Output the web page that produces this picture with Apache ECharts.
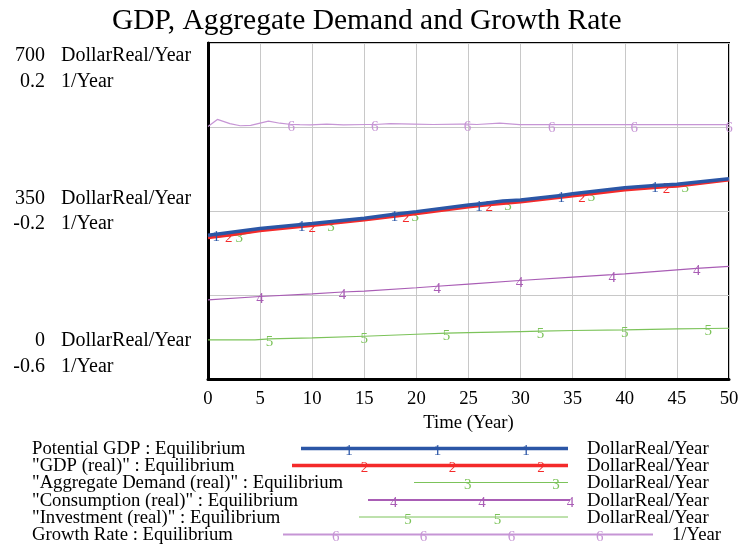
<!DOCTYPE html>
<html>
<head>
<meta charset="utf-8">
<title>GDP, Aggregate Demand and Growth Rate</title>
<script src="https://cdn.jsdelivr.net/npm/echarts@6/dist/echarts.min.js"></script>
<style>
  html, body { margin: 0; padding: 0; background: #ffffff; }
  #chart { width: 739px; height: 549px; }
</style>
</head>
<body>
<div id="chart"></div>
<script>
// ---- Simulation output (Time in years) ----
// Potential GDP (DollarReal/Year)
const tPot = [0, 0.8, 5, 9, 10, 15, 17.9, 20, 25, 26, 28.3, 30, 33.9, 35, 40, 42.9, 45, 50];
const potentialGdp = [299.5, 301.5, 313.7, 322, 324, 335, 343, 348.7, 362.6, 364.5, 371, 373, 382.5, 386, 398.4, 403, 405.5, 417.3];
const markPot = [0.8, 9, 17.9, 26, 33.9, 42.9];

// GDP (real) (DollarReal/Year)
const tGdp = [0, 2, 5, 10, 15, 19, 20, 25, 27, 30, 35, 35.9, 40, 44, 45, 50];
const gdpReal = [295, 300, 309.5, 320.5, 331.5, 342, 345, 359, 363.5, 369.5, 382, 384, 394.5, 401, 402, 415];
const markGdp = [2, 10, 19, 27, 35.9, 44];

// Aggregate Demand (real) (DollarReal/Year)
const tAd = [0, 3, 5, 10, 11.8, 15, 19.9, 25, 28.8, 30, 35, 36.8, 40, 45, 45.8, 50];
const aggDemand = [294, 300, 308.5, 319.5, 323.5, 330.5, 343.5, 358, 366, 368.5, 381, 385.5, 393.5, 401, 403, 414];
const markAd = [3, 11.8, 19.9, 28.8, 36.8, 45.8];

// Consumption (real) (DollarReal/Year)
const tCon = [0, 5, 10, 12.9, 15, 20, 22, 25, 29.9, 35, 38.8, 40, 45, 46.9, 50];
const consumption = [164.9, 171.9, 177.4, 181.2, 183, 190.1, 193.2, 197.8, 205.2, 212.3, 217.5, 219.2, 227.5, 230.3, 234.6];
const markCon = [5, 12.9, 22, 29.9, 38.8, 46.9];

// Investment (real) (DollarReal/Year)
const tInv = [0, 4.5, 5.9, 10, 15, 20, 22.9, 25, 30, 31.9, 35, 40, 45, 48, 50];
const investment = [81.4, 81.4, 83.5, 85.6, 89.1, 93.2, 95.5, 96.8, 98.9, 99.8, 101, 102.3, 104.3, 105.2, 105.7];
const markInv = [5.9, 15, 22.9, 31.9, 40, 48];

// Growth Rate (1/Year)
const tGr = [0, 0.9, 2.1, 3.1, 4.1, 5.8, 6.9, 8, 8.8, 9.8, 11.4, 13, 15.2, 16, 17.5, 19.7, 21.6, 24.2, 24.9, 25.8, 28, 29.9, 33, 40.9, 50];
const growthRate = [0.001, 0.018, 0.008, 0.003, 0.004, 0.014, 0.009, 0.006, 0.0055, 0.005, 0.007, 0.005, 0.006, 0.006, 0.008, 0.007, 0.006, 0.007, 0.007, 0.006, 0.009, 0.0055, 0.0055, 0.0055, 0.0055];
const markGr = [8, 16, 24.9, 33, 40.9, 50];

// ---- Axis tick labels ----
const leftTickVals = [0, 350, 700];
const leftTickText = ['0', '350', '700'];
const leftUnit = 'DollarReal/Year';
const rightTickVals = [-0.6, -0.2, 0.2];
const rightTickText = ['-0.6', '-0.2', '0.2'];
const rightUnit = '1/Year';
const xTitle = 'Time (Year)';
const chartTitle = 'GDP, Aggregate Demand and Growth Rate';

// ---- Legend entries ----
const legendNames = [
  'Potential GDP : Equilibrium',
  '"GDP (real)" : Equilibrium',
  '"Aggregate Demand (real)" : Equilibrium',
  '"Consumption (real)" : Equilibrium',
  '"Investment (real)" : Equilibrium',
  'Growth Rate : Equilibrium'
];
const legendUnits = [leftUnit, leftUnit, leftUnit, leftUnit, leftUnit, rightUnit];

// ---- Styling ----
const FONT = '"Liberation Serif", "Times New Roman", serif';
const colors = ['#2b56a6', '#f42a2a', '#7cc35a', '#a95db5', '#7cc35a', '#c695d5'];
const widths = [3.5, 3.5, 1, 1.2, 1.2, 1.2];
const legendWidths = [3.5, 3.5, 1, 2, 1, 2];

// Legend layout (pixels)
const legendTextX = 32;
const legendRowY = [450, 467, 484, 501.5, 518.5, 536];
const legendLines = [[301, 568], [292, 568], [414, 568], [368, 570], [359, 568], [283, 653]];
const legendMarks = [
  [349, 437.5, 526],
  [364.5, 452.6, 541],
  [467.7, 556],
  [393.7, 482, 570.5],
  [408, 497.4],
  [335.7, 423.4, 511.6, 599.8]
];
const legendUnitX = [587, 587, 587, 587, 587, 672];

function buildData(times, values, marks) {
  return times.map(function (t, i) {
    if (marks.indexOf(t) >= 0) {
      return { value: [t, values[i]], symbol: 'circle', symbolSize: 0, label: { show: true } };
    }
    return { value: [t, values[i]], symbol: 'none' };
  });
}

const seriesDefs = [
  { times: tPot, vals: potentialGdp, marks: markPot, axis: 0 },
  { times: tGdp, vals: gdpReal, marks: markGdp, axis: 0 },
  { times: tAd, vals: aggDemand, marks: markAd, axis: 0 },
  { times: tCon, vals: consumption, marks: markCon, axis: 0 },
  { times: tInv, vals: investment, marks: markInv, axis: 0 },
  { times: tGr, vals: growthRate, marks: markGr, axis: 1 }
];

const series = seriesDefs.map(function (d, i) {
  return {
    type: 'line',
    name: legendNames[i],
    yAxisIndex: d.axis,
    data: buildData(d.times, d.vals, d.marks),
    showSymbol: true,
    showAllSymbol: true,
    symbol: 'none',
    z: 20 - i,
    silent: true,
    lineStyle: { color: colors[i], width: widths[i] },
    itemStyle: { color: colors[i] },
    label: {
      show: false,
      position: 'inside',
      offset: [0, 3],
      formatter: String(i + 1),
      color: colors[i],
      fontFamily: FONT,
      fontSize: 15
    },
    emphasis: { disabled: true }
  };
});

// Legend drawn as plain shapes and text under the plot
const graphic = [];
legendNames.forEach(function (name, i) {
  const y = legendRowY[i];
  graphic.push({
    type: 'text', left: legendTextX, top: y - 10,
    style: { text: name, font: '18.7px ' + FONT, fill: '#000' }
  });
  graphic.push({
    type: 'line',
    shape: { x1: legendLines[i][0], y1: y - 1.5, x2: legendLines[i][1], y2: y - 1.5 },
    style: { stroke: colors[i], lineWidth: legendWidths[i] }
  });
  legendMarks[i].forEach(function (mx) {
    graphic.push({
      type: 'text', x: mx, y: y + 1.5,
      style: { text: String(i + 1), font: '15px ' + FONT, fill: colors[i], align: 'center', verticalAlign: 'middle' }
    });
  });
  graphic.push({
    type: 'text', left: legendUnitX[i], top: y - 10,
    style: { text: legendUnits[i], font: '18.7px ' + FONT, fill: '#000' }
  });
});

function matchIndex(list, v) {
  for (let k = 0; k < list.length; k++) {
    if (Math.abs(list[k] - v) < 1e-6) return k;
  }
  return -1;
}
// Four-line label blocks: two visible lines placed below, around or above the tick
function stackLines(k, a, b) {
  if (k === 2) return ' \n \n' + a + '\n' + b;
  if (k === 1) return ' \n' + a + '\n' + b + '\n ';
  return a + '\n' + b + '\n \n ';
}

const chart = echarts.init(document.getElementById('chart'), null, { renderer: 'canvas' });
chart.setOption({
  animation: false,
  backgroundColor: '#ffffff',
  title: {
    text: chartTitle,
    left: 107,
    top: 1,
    textStyle: { fontFamily: FONT, fontSize: 29.5, fontWeight: 'normal', color: '#000' }
  },
  grid: {
    left: 208, top: 43, width: 521, height: 336,
    outerBoundsMode: 'none',
    containLabel: false,
    show: true, borderColor: '#000', borderWidth: 2, backgroundColor: 'transparent'
  },
  xAxis: {
    type: 'value', min: 0, max: 50, interval: 5,
    name: xTitle, nameLocation: 'middle', nameGap: 35,
    nameTextStyle: { fontFamily: FONT, fontSize: 18.7, color: '#000' },
    axisLine: { show: true, lineStyle: { color: '#000', width: 3 } },
    axisTick: { show: false },
    axisLabel: { fontFamily: FONT, fontSize: 18.7, color: '#000', margin: 11, showMinLabel: true, showMaxLabel: true },
    splitLine: { show: true, lineStyle: { color: '#c8c8c8', width: 1 } }
  },
  yAxis: [
    {
      type: 'value', min: 0, max: 700, interval: 175, position: 'left',
      axisLine: { show: true, lineStyle: { color: '#000', width: 3 } },
      axisTick: { show: false },
      splitLine: { show: true, lineStyle: { color: '#c8c8c8', width: 1 } },
      axisLabel: {
        showMinLabel: true, showMaxLabel: true,
        margin: 163, align: 'right',
        fontFamily: FONT, fontSize: 20, lineHeight: 25.5, color: '#000',
        formatter: function (v) {
          const k = matchIndex(leftTickVals, v);
          if (k < 0) return '';
          return stackLines(k, leftTickText[k], rightTickText[k]);
        }
      }
    },
    {
      type: 'value', min: -0.6, max: 0.2, interval: 0.2, position: 'left', offset: 0,
      axisLine: { show: false },
      axisTick: { show: false },
      splitLine: { show: false },
      axisLabel: {
        showMinLabel: true, showMaxLabel: true,
        margin: 147, align: 'left',
        fontFamily: FONT, fontSize: 20, lineHeight: 25.5, color: '#000',
        formatter: function (v) {
          const k = matchIndex(rightTickVals, v);
          if (k < 0) return '';
          return stackLines(k, leftUnit, rightUnit);
        }
      }
    }
  ],
  series: series,
  graphic: graphic
});
</script>
</body>
</html>
